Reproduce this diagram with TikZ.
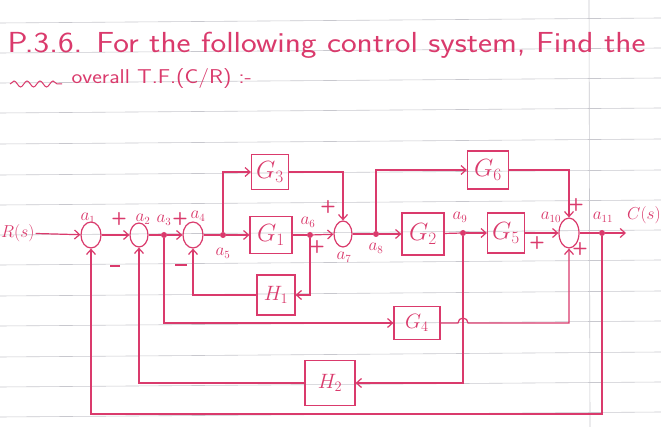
\documentclass[tikz,border=0pt]{standalone}
\usepackage{tikz}
\usepackage{xcolor}
\usetikzlibrary{shapes.geometric, arrows.meta, positioning, decorations.pathmorphing}

\definecolor{ink}{RGB}{218,58,108}
\definecolor{rule}{RGB}{200,200,206}

\begin{document}
\begin{tikzpicture}[
    x=1pt, y=-1pt,
    >={Straight Barb[length=5pt, width=9pt]},
    color=ink,
    font=\sffamily,
    block/.style ={draw=ink, line width=1.2pt, minimum width=42pt, minimum height=37pt,
                   inner sep=0pt, font=\fontsize{24}{26}\selectfont},
    sumpt/.style ={ellipse, draw=ink, line width=1.2pt, minimum width=20pt,
                   minimum height=26pt, inner sep=0pt},
    tap/.style   ={circle, fill=ink, minimum size=6pt, inner sep=0pt},
    flow/.style  ={->, ink, line width=1.2pt},
    wire/.style  ={ink, line width=1.2pt},
    lbl/.style   ={font=\fontsize{16}{18}\selectfont, inner sep=1pt},
    sgn/.style   ={font=\sffamily\bfseries\fontsize{18}{20}\selectfont, inner sep=0pt},
    paper/.style ={rule, line width=0.6pt}
]

% Sheet of ruled paper
\fill[white] (0,0) rectangle (661,427);
\useasboundingbox (0,0) rectangle (661,427);
\foreach \yy in {23,53,83,113,144,175,205,235,265,296,326,357,387,417}
    \draw[paper] (0,\yy) -- (661,\yy-5);
\draw[paper] (589,0) -- (590,427);

% Heading
\node[anchor=west, font=\sffamily\fontsize{29}{31}\selectfont] (ttl) at (4,45)
    {\scalebox{1.15}[1]{P.3.6. For the following control system, Find the}};
\node[anchor=west, font=\sffamily\fontsize{20}{22}\selectfont] (ttl2) at (68,79)
    {\scalebox{1.15}[1]{overall T.F.(C/R) :-}};
\draw[line width=1pt, decorate, decoration={snake, amplitude=3pt, segment length=13pt}]
    (10,84) -- (62,84);

% Forward path
\node[lbl, font=\fontsize{17}{19}\selectfont, anchor=west] (rin) at (0,233) {$R(s)$};
\node[sumpt] (s1) at (91,235) {};
\node[sumpt, minimum width=18pt, minimum height=24pt] (s2) at (139,235) {};
\node[tap] (p3) at (164,235) {};
\node[sumpt] (s3) at (193,235) {};
\node[tap] (p5) at (223,235) {};
\node[block] (g1) at (271,235) {$G_1$};
\node[tap] (p6) at (310,235) {};
\node[sumpt, minimum width=18pt] (s4) at (343,234) {};
\node[tap] (p8) at (376,234) {};
\node[block, minimum height=42pt] (g2) at (423,234) {$G_2$};
\node[tap] (p9) at (463,233) {};
\node[block, minimum width=37pt, minimum height=40pt] (g5) at (506,233) {$G_5$};
\node[sumpt, minimum height=30pt] (s5) at (569,233) {};
\node[tap] (p11) at (602,233) {};
\coordinate (cend) at (626,233);
\node[lbl, font=\fontsize{17}{19}\selectfont, anchor=west] (cout) at (626,215) {$C(s)$};

% Parallel and feedback blocks
\node[block, minimum width=37pt, minimum height=35pt] (g3) at (270,172) {$G_3$};
\node[block, minimum width=41pt, minimum height=38pt] (g6) at (488,170) {$G_6$};
\node[block, minimum width=38pt, minimum height=40pt, font=\fontsize{21}{23}\selectfont]
    (h1) at (276,295) {$H_1$};
\node[block, minimum width=46pt, minimum height=33pt, font=\fontsize{20}{22}\selectfont]
    (g4) at (417,323) {$G_4$};
\node[block, minimum width=50pt, minimum height=45pt, font=\fontsize{21}{23}\selectfont]
    (h2) at (330,383) {$H_2$};

% --- Arrows ---
\draw[flow] (rin) -- (s1);
\draw[flow] (s1) -- (s2);
\draw[wire] (s2) -- (p3);
\draw[flow] (p3) -- (s3);
\draw[wire] (s3) -- (p5);
\draw[flow] (p5) -- (g1);
\draw[wire] (g1) -- (p6);
\draw[flow] (p6) -- (s4);
\draw[wire] (s4) -- (p8);
\draw[flow] (p8) -- (g2);
\draw[wire] (g2) -- (p9);
\draw[flow] (p9) -- (g5);
\draw[flow] (g5) -- (s5);
\draw[wire] (s5) -- (p11);
\draw[flow] (p11) -- (cend);

\draw[flow] (p5) |- (g3.west);
\draw[flow] (g3.east) -| (s4.north);
\draw[flow] (p8) |- (g6.west);
\draw[flow] (g6.east) -| (s5.north);

\draw[flow] (p6) |- (h1.east);
\draw[flow] (h1.west) -| (s3.south);
\draw[flow] (p3) |- (g4.west);
\draw[flow] (g4.east) -- ([xshift=-5pt]p9 |- g4.east)
    arc[start angle=180, end angle=0, radius=5pt] -| (s5.south);
\draw[flow] (p9) |- (h2.east);
\draw[flow] (h2.west) -| (s2.south);
\draw[flow] (p11) -- ++(0,181) -| (s1.south);

% Signs
\node[sgn] (pl1) at (119,219) {+};
\node[sgn] (mi1) at (115,266) {\rule{10pt}{2pt}};
\node[sgn] (pl2) at (180,219) {+};
\node[sgn] (mi2) at (181,265) {\rule{12pt}{2pt}};
\node[sgn] (pl3) at (328,207) {+};
\node[sgn] (pl4) at (317,247) {+};
\node[sgn] (pl5) at (576,205) {+};
\node[sgn] (pl6) at (537,243) {+};
\node[sgn] (pl7) at (580,249) {+};

% Signal names
\node[lbl] (la1) at (88,218) {$a_1$};
\node[lbl] (la2) at (143,219) {$a_2$};
\node[lbl] (la3) at (164,220) {$a_3$};
\node[lbl] (la4) at (198,216) {$a_4$};
\node[lbl] (la5) at (223,253) {$a_5$};
\node[lbl] (la6) at (308,222) {$a_6$};
\node[lbl] (la7) at (344,257) {$a_7$};
\node[lbl] (la8) at (376,248) {$a_8$};
\node[lbl] (la9) at (460,217) {$a_9$};
\node[lbl] (la10) at (551,217) {$a_{10}$};
\node[lbl] (la11) at (603,217) {$a_{11}$};

\end{tikzpicture}
\end{document}
